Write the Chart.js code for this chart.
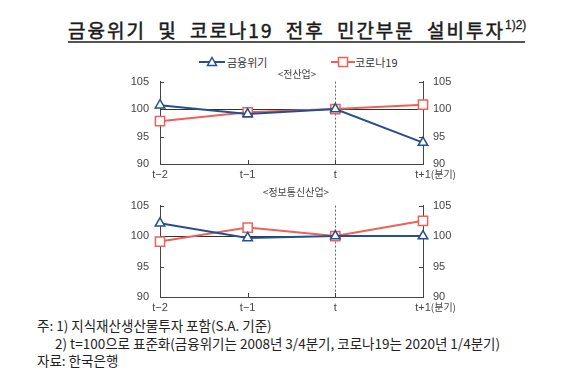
<!DOCTYPE html>
<html>
<head>
<meta charset="utf-8">
<script src="https://cdn.jsdelivr.net/npm/chart.js@4.4.0/dist/chart.umd.min.js"></script>
<style>
  body { margin: 0; width: 567px; height: 388px; background: #fff; position: relative; overflow: hidden;
         font-family: "Liberation Sans", "Noto Sans CJK KR", sans-serif; color: #222; }
  .abs { position: absolute; white-space: nowrap; }
  #title { left: 68px; top: 18px; font-size: 19px; font-family: "Noto Sans CJK KR", sans-serif; font-weight: normal;
           letter-spacing: 2px; word-spacing: 6px; line-height: 24px; color: #1a1a1a; -webkit-text-stroke: 0.5px #1a1a1a; }
  #title sup { font-family: "Liberation Sans", sans-serif; font-size: 12px; letter-spacing: 0; vertical-align: 9px; line-height: 0; -webkit-text-stroke: 0.3px #1a1a1a; }
  #rule { left: 68px; top: 41px; width: 457px; height: 2px; background: #555; }
  .leg { font-size: 11px; line-height: 14px; top: 55px; font-family: "Noto Sans CJK KR", sans-serif; color: #333; }
  .sub { font-size: 10px; line-height: 12px; color: #444; font-family: "Noto Sans CJK KR", sans-serif; transform: translateX(-50%); }
  canvas { position: absolute; left: 0; }
  .note { font-size: 13.5px; line-height: 16px; left: 37px; font-family: "Noto Sans CJK KR", sans-serif; color: #222; }
</style>
</head>
<body>
<div id="title" class="abs">금융위기 및 코로나19 전후 민간부문 설비투자<sup>1)2)</sup></div>
<div id="rule" class="abs"></div>

<svg class="abs" style="left:199px;top:56px" width="26" height="12">
  <line x1="0" y1="6" x2="26" y2="6" stroke="#24508f" stroke-width="2"/>
  <polygon points="13,1.5 17.5,9.5 8.5,9.5" fill="#fff" stroke="#24508f" stroke-width="1.5"/>
</svg>
<div class="abs leg" style="left:227px">금융위기</div>
<svg class="abs" style="left:331px;top:56px" width="24" height="12">
  <line x1="0" y1="6" x2="24" y2="6" stroke="#ef6158" stroke-width="2"/>
  <rect x="7.5" y="1.5" width="9" height="9" fill="#fff" stroke="#ef6158" stroke-width="1.5"/>
</svg>
<div class="abs leg" style="left:355px">코로나19</div>

<canvas id="top" width="567" height="118" style="top:64px"></canvas>
<canvas id="bot" width="567" height="127" style="top:188px"></canvas>

<div class="abs sub" style="left:297px;top:68px">&lt;전산업&gt;</div>
<div class="abs sub" style="left:296px;top:186px">&lt;정보통신산업&gt;</div>

<div class="abs note" style="top:317px">주: 1) 지식재산생산물투자 포함(S.A. 기준)</div>
<div class="abs note" style="top:335px;left:55px">2) t=100으로 표준화(금융위기는 2008년 3/4분기, 코로나19는 2020년 1/4분기)</div>
<div class="abs note" style="top:352px">자료: 한국은행</div>

<script>
const periods = ['t−2', 't−1', 't', 't+1'];
const periodUnit = '(분기)';
const yTicks = [90, 95, 100, 105];

// 전산업
const allFinCrisis = [100.7, 99.1, 100, 93.9];
const allCovid = [97.8, 99.4, 100, 100.8];
// 정보통신산업
const ictFinCrisis = [102.1, 99.7, 100, 100];
const ictCovid = [99.1, 101.4, 100, 102.5];

const BLUE = '#24508f';
const RED = '#ef6158';
const AXIS = '#444';
const FONT = { family: '"Liberation Sans", sans-serif', size: 11 };

const axesDeco = {
  id: 'axesDeco',
  beforeDatasetsDraw(chart) {
    const { ctx, chartArea: a, scales: { x, y } } = chart;
    ctx.save();
    // base line at 100
    ctx.strokeStyle = '#333';
    ctx.lineWidth = 1;
    const y100 = Math.round(y.getPixelForValue(100)) + 0.5;
    ctx.beginPath(); ctx.moveTo(a.left, y100); ctx.lineTo(a.right, y100); ctx.stroke();
    // dashed line at t
    const xt = Math.round(x.getPixelForValue(2)) + 0.5;
    ctx.setLineDash([2, 2]);
    ctx.strokeStyle = '#666';
    ctx.beginPath(); ctx.moveTo(xt, a.top); ctx.lineTo(xt, a.bottom); ctx.stroke();
    ctx.setLineDash([]);
    // inward tick marks
    ctx.strokeStyle = AXIS;
    yTicks.slice(1).forEach(v => {
      const py = Math.round(y.getPixelForValue(v)) + 0.5;
      ctx.beginPath(); ctx.moveTo(a.left, py); ctx.lineTo(a.left + 4, py); ctx.stroke();
      ctx.beginPath(); ctx.moveTo(a.right, py); ctx.lineTo(a.right - 4, py); ctx.stroke();
    });
    [1, 2].forEach(i => {
      const px = Math.round(x.getPixelForValue(i)) + 0.5;
      ctx.beginPath(); ctx.moveTo(px, a.bottom); ctx.lineTo(px, a.bottom - 4); ctx.stroke();
    });
    ctx.restore();
  },
  afterDraw(chart) {
    const { ctx, scales: { x } } = chart;
    const last = periods.length - 1;
    ctx.save();
    ctx.font = '11px "Liberation Sans", sans-serif';
    const w = ctx.measureText(periods[last]).width;
    ctx.font = '10px "Noto Sans CJK KR", sans-serif';
    ctx.fillStyle = '#444';
    ctx.textBaseline = 'middle';
    ctx.fillText(periodUnit, x.getPixelForValue(last) + w / 2, x.top + 10);
    ctx.restore();
  }
};

function makeChart(id, fin, covid, plotTop, plotH) {
  const canvas = document.getElementById(id);
  const xH = canvas.height - plotTop - plotH;
  const yOpts = (pos, pad, width) => ({
    position: pos, min: 90, max: 105,
    afterFit: s => { s.width = width; },
    afterBuildTicks: s => { s.ticks = yTicks.map(v => ({ value: v })); },
    grid: { display: false, drawTicks: false },
    border: { display: true, color: AXIS, width: 1 },
    ticks: { color: '#444', font: FONT, padding: pad }
  });
  return new Chart(canvas, {
    type: 'line',
    data: {
      labels: periods,
      datasets: [
        { label: '금융위기', data: fin, borderColor: BLUE, backgroundColor: '#fff', borderWidth: 2,
          pointStyle: 'triangle', pointRadius: 5.5, pointBorderWidth: 1.5, pointBackgroundColor: '#fff', pointBorderColor: BLUE },
        { label: '코로나19', data: covid, borderColor: RED, backgroundColor: '#fff', borderWidth: 2,
          pointStyle: 'rect', pointRadius: 6.5, pointBorderWidth: 1.5, pointBackgroundColor: '#fff', pointBorderColor: RED }
      ]
    },
    options: {
      responsive: false,
      animation: false,
      layout: { padding: { top: plotTop, left: 0, right: 0, bottom: 0 } },
      plugins: { legend: { display: false }, tooltip: { enabled: false } },
      scales: {
        x: {
          offset: false,
          afterFit: s => { s.height = xH; },
          grid: { display: false, drawTicks: false },
          border: { display: true, color: AXIS, width: 1 },
          ticks: { color: '#444', font: FONT, padding: 4, maxRotation: 0, autoSkip: false }
        },
        y: yOpts('left', 11, 160),
        y2: yOpts('right', 10, 144)
      }
    },
    plugins: [axesDeco]
  });
}

makeChart('top', allFinCrisis, allCovid, 9, 91);
makeChart('bot', ictFinCrisis, ictCovid, 15, 94);
</script>
</body>
</html>
